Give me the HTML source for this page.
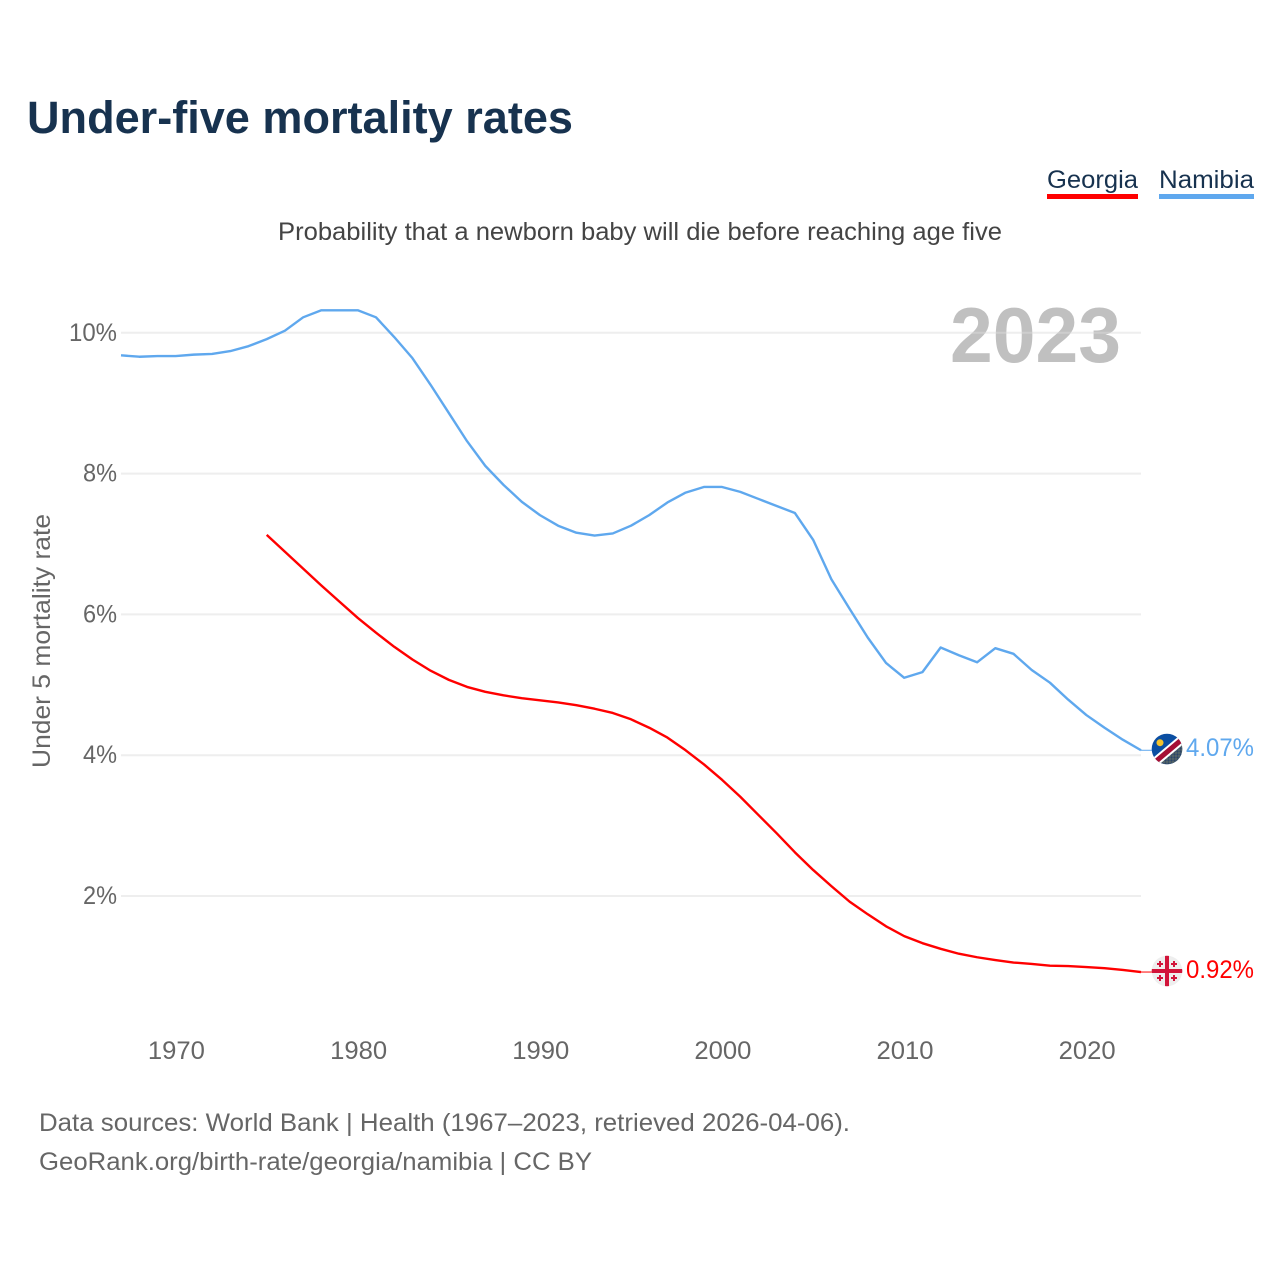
<!DOCTYPE html>
<html lang="en">
<head>
<meta charset="utf-8">
<title>Under-five mortality rates</title>
<style>
html,body{margin:0;padding:0;background:#fff;}
svg{display:block;font-family:"Liberation Sans",Arial,sans-serif;}
</style>
</head>
<body>
<svg id="chart" xmlns="http://www.w3.org/2000/svg" width="1280" height="1280" viewBox="0 0 1280 1280">
  <defs>
    <pattern id="na-dots" width="3" height="3" patternUnits="userSpaceOnUse">
      <rect width="3" height="3" fill="#5c6a66"/>
      <circle cx="1.500" cy="1.500" r="1.200" fill="#2b4568"/>
    </pattern>
  </defs>
  <rect x="0" y="0" width="1280" height="1280" fill="#ffffff"/>
  <text x="27" y="133" font-size="45" font-weight="700" fill="#17324f" textLength="546" lengthAdjust="spacingAndGlyphs">Under-five mortality rates</text>
  <text x="278" y="240" font-size="25" fill="#444444" textLength="724" lengthAdjust="spacingAndGlyphs">Probability that a newborn baby will die before reaching age five</text>

  <g>
    <text x="1047" y="188" font-size="25" fill="#17324f" textLength="91" lengthAdjust="spacingAndGlyphs">Georgia</text>
    <rect x="1047" y="194" width="91" height="5" fill="#ff0000"/>
  </g>
  <g>
    <text x="1159" y="188" font-size="25" fill="#17324f" textLength="95" lengthAdjust="spacingAndGlyphs">Namibia</text>
    <rect x="1159" y="194" width="95" height="5" fill="#5fa8ee"/>
  </g>

  <text x="1121" y="362" text-anchor="end" font-size="78" font-weight="700" fill="#c0c0c0" textLength="171" lengthAdjust="spacingAndGlyphs">2023</text>

  <g id="grid"></g>
  <g id="yticks"></g>
  <g id="xticks"></g>

  <text transform="translate(50,641) rotate(-90)" text-anchor="middle" font-size="25" fill="#666666" textLength="254" lengthAdjust="spacingAndGlyphs">Under 5 mortality rate</text>

  <g id="series"></g>

  <g id="flag-namibia">
    <clipPath id="clip-na"><circle cx="1167" cy="749" r="15.300"/></clipPath>
    <g clip-path="url(#clip-na)">
      <rect x="1150" y="732" width="34" height="34" fill="#0b4ea2"/>
      <polygon points="1148,768 1186,736 1186,768" fill="url(#na-dots)"/>
      <line x1="1148" y1="768" x2="1186" y2="736" stroke="#ffffff" stroke-width="9"/>
      <line x1="1148" y1="768" x2="1186" y2="736" stroke="#a50f35" stroke-width="5"/>
      <circle cx="1160" cy="742.700" r="3.500" fill="#f5c32c"/>
    </g>
  </g>
  <g id="flag-georgia">
    <clipPath id="clip-ge"><circle cx="1167" cy="971" r="15.300"/></clipPath>
    <g clip-path="url(#clip-ge)">
      <rect x="1150" y="954" width="34" height="34" fill="#eeeeee"/>
      <rect x="1165" y="954" width="4" height="34" fill="#d2143a"/>
      <rect x="1150" y="969" width="34" height="4" fill="#d2143a"/>
      <path d="M1159 961h2v6h-2z M1157 963h6v2h-6z M1173 961h2v6h-2z M1171 963h6v2h-6z M1159 975h2v6h-2z M1157 977h6v2h-6z M1173 975h2v6h-2z M1171 977h6v2h-6z" fill="#d2143a"/>
    </g>
  </g>
  <text id="value-namibia" x="1186" y="756" font-size="25" fill="#5fa8ee" textLength="68" lengthAdjust="spacingAndGlyphs">4.07%</text>
  <text id="value-georgia" x="1186" y="978" font-size="25" fill="#ff0000" textLength="68" lengthAdjust="spacingAndGlyphs">0.92%</text>

  <text x="39" y="1131" font-size="25" fill="#666666" textLength="811" lengthAdjust="spacingAndGlyphs">Data sources: World Bank | Health (1967–2023, retrieved 2026-04-06).</text>
  <text x="39" y="1170" font-size="25" fill="#666666" textLength="553" lengthAdjust="spacingAndGlyphs">GeoRank.org/birth-rate/georgia/namibia | CC BY</text>
</svg>
<script>
const namibiaYears = [1967,1968,1969,1970,1971,1972,1973,1974,1975,1976,1977,1978,1979,1980,1981,1982,1983,1984,1985,1986,1987,1988,1989,1990,1991,1992,1993,1994,1995,1996,1997,1998,1999,2000,2001,2002,2003,2004,2005,2006,2007,2008,2009,2010,2011,2012,2013,2014,2015,2016,2017,2018,2019,2020,2021,2022,2023];
const namibiaValues = [9.68,9.66,9.67,9.67,9.69,9.70,9.74,9.81,9.91,10.03,10.22,10.32,10.32,10.32,10.22,9.94,9.64,9.26,8.86,8.46,8.11,7.84,7.60,7.41,7.26,7.16,7.12,7.15,7.26,7.41,7.59,7.73,7.81,7.81,7.74,7.64,7.54,7.44,7.06,6.50,6.08,5.67,5.31,5.10,5.18,5.53,5.42,5.32,5.52,5.44,5.21,5.03,4.79,4.57,4.39,4.22,4.07];
const georgiaYears = [1975,1976,1977,1978,1979,1980,1981,1982,1983,1984,1985,1986,1987,1988,1989,1990,1991,1992,1993,1994,1995,1996,1997,1998,1999,2000,2001,2002,2003,2004,2005,2006,2007,2008,2009,2010,2011,2012,2013,2014,2015,2016,2017,2018,2019,2020,2021,2022,2023];
const georgiaValues = [7.13,6.89,6.65,6.41,6.18,5.95,5.74,5.54,5.36,5.20,5.07,4.97,4.90,4.85,4.81,4.78,4.75,4.71,4.66,4.60,4.51,4.39,4.25,4.07,3.87,3.65,3.41,3.15,2.89,2.62,2.37,2.14,1.92,1.74,1.57,1.43,1.33,1.25,1.18,1.13,1.09,1.055,1.035,1.01,1.005,0.99,0.975,0.95,0.92];
const yTickValues = [2,4,6,8,10];
const yTickLabels = ["2%","4%","6%","8%","10%"];
const xTickValues = [1970,1980,1990,2000,2010,2020];
const xTickLabels = ["1970","1980","1990","2000","2010","2020"];

const NS = 'http://www.w3.org/2000/svg';
function xScale(year){ return 121 + (year - 1967) * (1141 - 121) / (2023 - 1967); }
function yScale(v){ return 1036.8 - v * 70.4; }
function make(tag, parent){
  const el = document.createElementNS(NS, tag);
  parent.appendChild(el);
  return el;
}

const grid = document.getElementById('grid');
const yticks = document.getElementById('yticks');
yTickValues.forEach(function(v, i){
  const line = make('line', grid);
  
  
  line.setAttribute('x1', 121);
  line.setAttribute('x2', 1141);
  line.setAttribute('y1', yScale(v));
  line.setAttribute('y2', yScale(v));
  line.setAttribute('stroke', '#dbdbdb');
  line.setAttribute('stroke-opacity', 0.48);
  line.setAttribute('stroke-width', 2);
  const label = make('text', yticks);
  
  
  label.setAttribute('x', 117);
  label.setAttribute('y', yScale(v) + 8);
  label.setAttribute('text-anchor', 'end');
  label.setAttribute('font-size', 25);
  label.setAttribute('fill', '#666666');
  label.setAttribute('textLength', yTickLabels[i].length > 2 ? 48 : 34);
  label.setAttribute('lengthAdjust', 'spacingAndGlyphs');
  label.textContent = yTickLabels[i];
});

const xticks = document.getElementById('xticks');
xTickValues.forEach(function(year, i){
  const label = make('text', xticks);
  
  
  label.setAttribute('x', xScale(year) + 0.8);
  label.setAttribute('y', 1059);
  label.setAttribute('text-anchor', 'middle');
  label.setAttribute('font-size', 25);
  label.setAttribute('fill', '#666666');
  label.setAttribute('textLength', 57);
  label.setAttribute('lengthAdjust', 'spacingAndGlyphs');
  label.textContent = xTickLabels[i];
});

function pathFrom(years, values){
  return years.map(function(year, i){
    return (i ? 'L' : 'M') + xScale(year).toFixed(2) + ' ' + yScale(values[i]).toFixed(2);
  }).join(' ');
}
const series = document.getElementById('series');

const namibiaLine = make('path', series);


namibiaLine.setAttribute('d', pathFrom(namibiaYears, namibiaValues));
namibiaLine.setAttribute('fill', 'none');
namibiaLine.setAttribute('stroke', '#5fa8ee');
namibiaLine.setAttribute('stroke-width', 2.4);
namibiaLine.setAttribute('stroke-linejoin', 'round');

const georgiaLine = make('path', series);


georgiaLine.setAttribute('d', pathFrom(georgiaYears, georgiaValues));
georgiaLine.setAttribute('fill', 'none');
georgiaLine.setAttribute('stroke', '#ff0000');
georgiaLine.setAttribute('stroke-width', 2.4);
georgiaLine.setAttribute('stroke-linejoin', 'round');

const namibiaLeader = make('line', series);


namibiaLeader.setAttribute('x1', xScale(2023));
namibiaLeader.setAttribute('x2', 1152);
namibiaLeader.setAttribute('y1', yScale(namibiaValues[namibiaValues.length - 1]));
namibiaLeader.setAttribute('y2', yScale(namibiaValues[namibiaValues.length - 1]));
namibiaLeader.setAttribute('stroke', '#5fa8ee');
namibiaLeader.setAttribute('stroke-width', 1);

const georgiaLeader = make('line', series);


georgiaLeader.setAttribute('x1', xScale(2023));
georgiaLeader.setAttribute('x2', 1152);
georgiaLeader.setAttribute('y1', yScale(georgiaValues[georgiaValues.length - 1]));
georgiaLeader.setAttribute('y2', yScale(georgiaValues[georgiaValues.length - 1]));
georgiaLeader.setAttribute('stroke', '#ff0000');
georgiaLeader.setAttribute('stroke-width', 1);
</script>
</body>
</html>
